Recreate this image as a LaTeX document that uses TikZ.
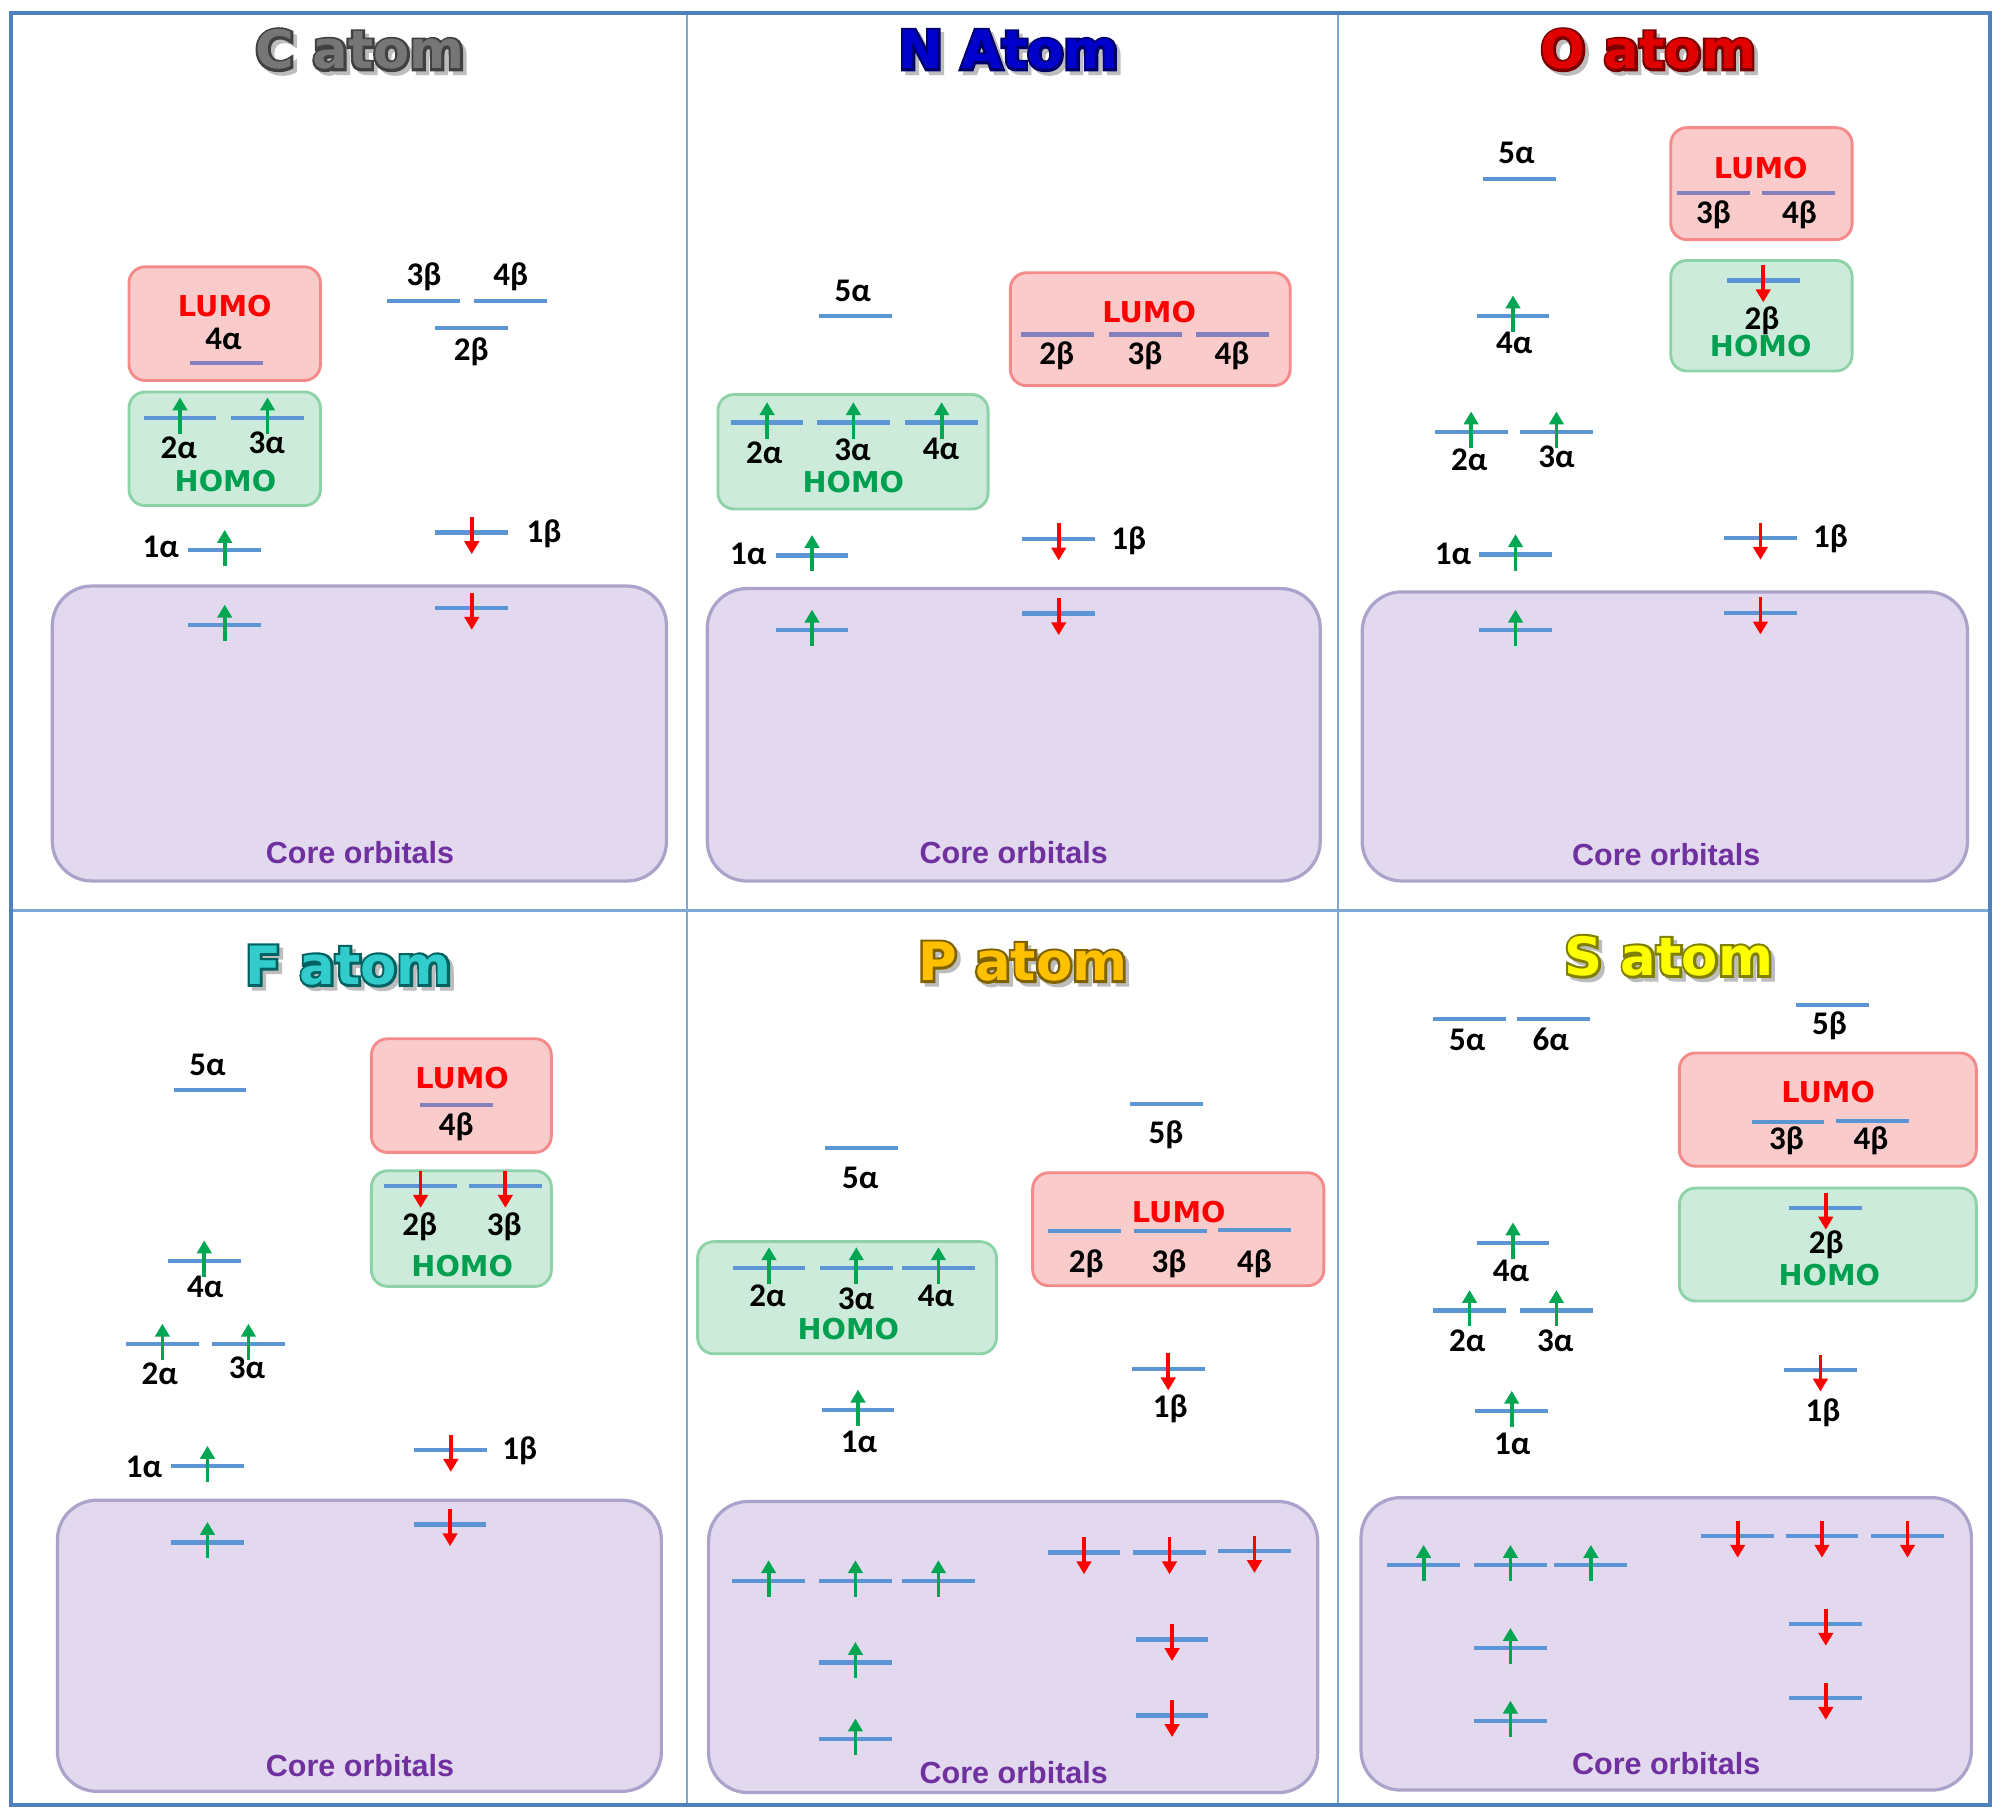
\documentclass[tikz,border=0pt]{standalone}
\usepackage{fontspec}
\setmainfont{Carlito}
\newfontfamily\dvs{DejaVu Sans}
\newfontfamily\lib{Liberation Sans}
\usetikzlibrary{arrows.meta}

\definecolor{frameblue}{HTML}{4F81BD}
\definecolor{divblue}{HTML}{7FA7D4}
\definecolor{orbblue}{HTML}{5B95D3}
\definecolor{lumoline}{HTML}{8581BE}
\definecolor{upgreen}{HTML}{00A651}
\definecolor{dnred}{HTML}{FF0000}
\definecolor{lumofill}{HTML}{F9CBCB}
\definecolor{lumodraw}{HTML}{F58A8A}
\definecolor{homofill}{HTML}{CDEBDB}
\definecolor{homodraw}{HTML}{8ED3A8}
\definecolor{corefill}{HTML}{E2D9EE}
\definecolor{coredraw}{HTML}{ABA3CB}
\definecolor{coretext}{HTML}{7030A0}
\definecolor{lumotext}{HTML}{FF0000}
\definecolor{homotext}{HTML}{00A050}
\definecolor{tshadow}{HTML}{BDBDBD}
\definecolor{cfill}{HTML}{767676}
\definecolor{nfill}{HTML}{0000CC}
\definecolor{ofill}{HTML}{E00000}
\definecolor{ffill}{HTML}{33CCCC}
\definecolor{pfill}{HTML}{FFC000}
\definecolor{sfill}{HTML}{FFFF00}

% #1 fill colour, #2 outline colour as "r g b", #3 text
\newcommand\atomtitle[3]{%
  \rlap{\kern1.1pt\raisebox{-1.1pt}{\color{tshadow}\special{pdf:literal direct 2 Tr 1.2 w 0.74 0.74 0.74 RG}#3\special{pdf:literal direct 0 Tr}}}%
  \rlap{\color{#1}\special{pdf:literal direct 1 Tr 1.4 w #2 RG}#3\special{pdf:literal direct 0 Tr}}%
  {\color{#1}#3}}

\tikzset{
  orbline/.style={line width=1.2pt, draw=orbblue},
  uparr/.style={line width=1.05pt, draw=upgreen, -{Triangle[length=3.6pt,width=4pt]}},
  dnarr/.style={line width=1.05pt, draw=dnred, -{Triangle[length=3.6pt,width=4pt]}},
  pics/lve/.style={code={\draw[orbline] (-28.5,0) -- (28.5,0);}},
  pics/lvl/.style={code={\draw[orbline, draw=lumoline] (-28.5,0) -- (28.5,0);}},
  pics/lvu/.style={code={\draw[orbline] (-28.5,0) -- (28.5,0); \draw[uparr] (0,12.5) -- (0,-16);}},
  pics/lvd/.style={code={\draw[orbline] (-28.5,0) -- (28.5,0); \draw[dnarr] (0,-12) -- (0,17);}},
  lumobox/.style={draw=lumodraw, fill=lumofill, line width=0.8pt, rounded corners=4.5pt},
  homobox/.style={draw=homodraw, fill=homofill, line width=0.8pt, rounded corners=4.5pt},
  corebox/.style={draw=coredraw, fill=corefill, line width=0.9pt, rounded corners=11pt},
  lab/.style={font=\bfseries\fontsize{9.2}{10}\selectfont, inner sep=0pt, anchor=base, text=black},
  lumot/.style={font=\dvs\bfseries\fontsize{8}{9}\selectfont, inner sep=0pt, anchor=base, text=lumotext},
  homot/.style={font=\dvs\bfseries\fontsize{8}{9}\selectfont, inner sep=0pt, anchor=base, text=homotext},
  coret/.style={font=\lib\bfseries\fontsize{8.5}{10}\selectfont, inner sep=0pt, anchor=base, text=coretext},
  atomt/.style={font=\dvs\bfseries\fontsize{14.7}{16}\selectfont, inner sep=0pt, anchor=base},
}

\begin{document}
\begin{tikzpicture}[x=0.0125cm, y=-0.0125cm]
\useasboundingbox (0,0) rectangle (1568,1423);
\fill[white] (0,0) rectangle (1568,1423);

% ---------- frame ----------
\draw[divblue, line width=0.7pt] (538,10) -- (538,1413);
\draw[divblue, line width=0.7pt] (1048,10) -- (1048,1413);
\draw[divblue, line width=0.7pt] (9,713) -- (1558,713);
\draw[frameblue, line width=1.2pt] (8.6,10.2) rectangle (1558.6,1413.7);

% ================= C atom =================
\node[atomt] (Ct) at (282,54) {\atomtitle{cfill}{0.25 0.25 0.25}{C atom}};
\draw[lumobox] (101,209) rectangle (251,298);
\draw[homobox] (101,307) rectangle (251,396);
\draw[corebox] (41,459) rectangle (522,690);
\node[lumot] (Clumo) at (176,248) {LUMO};
\node[lab] (C4a) at (175,274) {4α};
\pic at (177.5,284.4) {lvl};
\pic at (141,327.3) {lvu};
\pic at (209.5,327.3) {lvu};
\node[lab] (C2a) at (140,359) {2α};
\node[lab] (C3a) at (209,355.5) {3α};
\node[homot] (Chomo) at (176.6,385) {HOMO};
\pic at (331.8,236) {lve};
\pic at (400,236) {lve};
\node[lab] (C3b) at (332,224) {3β};
\node[lab] (C4b) at (400,224) {4β};
\pic at (369.3,257) {lve};
\node[lab] (C2b) at (369,282.5) {2β};
\pic at (176,431) {lvu};
\node[lab] (C1a) at (126,437) {1α};
\pic at (369.5,417) {lvd};
\node[lab] (C1b) at (426,425) {1β};
\pic at (176,489.6) {lvu};
\pic at (369.5,476.3) {lvd};
\node[coret] (Ccore) at (282,676) {Core orbitals};

% ================= N atom =================
\node[atomt] (Nt) at (790,54) {\atomtitle{nfill}{0 0 0.42}{N Atom}};
\draw[lumobox] (791.3,213.6) rectangle (1010.5,302);
\draw[homobox] (562.3,309) rectangle (773.9,398.7);
\draw[corebox] (554,461) rectangle (1034,690);
\pic at (669.9,247.4) {lve};
\node[lab] (N5a) at (667.8,236) {5α};
\node[lumot] (Nlumo) at (900,252.6) {LUMO};
\pic at (828,262) {lvl};
\pic at (897.2,262) {lvl};
\pic at (965.4,262) {lvl};
\node[lab] (N2b) at (827.6,285.7) {2β};
\node[lab] (N3b) at (896.8,285.7) {3β};
\node[lab] (N4b) at (965,285.7) {4β};
\pic at (600.8,331) {lvu};
\pic at (668.4,331) {lvu};
\pic at (737.5,331) {lvu};
\node[lab] (N2a) at (598.5,363) {2α};
\node[lab] (N3a) at (667.7,361) {3α};
\node[lab] (N4a) at (737,360) {4α};
\node[homot] (Nhomo) at (668.4,386) {HOMO};
\pic at (636,435) {lvu};
\node[lab] (N1a) at (586,442) {1α};
\pic at (829.2,422) {lvd};
\node[lab] (N1b) at (884,430) {1β};
\pic at (636,493.5) {lvu};
\pic at (829.2,480.5) {lvd};
\node[coret] (Ncore) at (794,676) {Core orbitals};

% ================= O atom =================
\node[atomt] (Ot) at (1291,54) {\atomtitle{ofill}{0.48 0 0}{O atom}};
\draw[lumobox] (1308.6,100) rectangle (1450.6,187.7);
\draw[homobox] (1308.6,204) rectangle (1450.6,290.6);
\draw[corebox] (1066.9,463.6) rectangle (1541,690);
\pic at (1190,140.3) {lve};
\node[lab] (O5a) at (1187.7,128) {5α};
\node[lumot] (Olumo) at (1379,139.6) {LUMO};
\pic at (1342.2,151) {lvl};
\pic at (1408.6,151) {lvl};
\node[lab] (O3b) at (1342,175.3) {3β};
\node[lab] (O4b) at (1409.3,175.3) {4β};
\pic at (1381,219.8) {lvd};
\node[lab] (O2b) at (1380,258) {2β};
\node[homot] (Ohomo) at (1379,279) {HOMO};
\pic at (1185,247.4) {lvu};
\node[lab] (O4a) at (1186,276.6) {4α};
\pic at (1152.2,338.3) {lvu};
\pic at (1219,338.3) {lvu};
\node[lab] (O2a) at (1150.8,368.5) {2α};
\node[lab] (O3a) at (1219,366) {3α};
\pic at (1187,434.4) {lvu};
\node[lab] (O1a) at (1138,442) {1α};
\pic at (1378.8,421.4) {lvd};
\node[lab] (O1b) at (1433.6,429) {1β};
\pic at (1187,493.5) {lvu};
\pic at (1378.8,479.9) {lvd};
\node[coret] (Ocore) at (1305,678) {Core orbitals};

% ================= F atom =================
\node[atomt] (Ft) at (273,771) {\atomtitle{ffill}{0 0.38 0.38}{F atom}};
\draw[lumobox] (290.9,813.6) rectangle (431.8,902.6);
\draw[homobox] (290.9,917) rectangle (431.8,1007.5);
\draw[corebox] (45,1175) rectangle (518,1403);
\pic at (164.4,853.5) {lve};
\node[lab] (F5a) at (162.6,842) {5α};
\node[lumot] (Flumo) at (361.9,852.6) {LUMO};
\pic at (357.3,865.2) {lvl};
\node[lab] (F4b) at (357.3,889.4) {4β};
\pic at (329.4,929) {lvd};
\pic at (395.8,929) {lvd};
\node[lab] (F2b) at (328.7,968) {2β};
\node[lab] (F3b) at (395,968) {3β};
\node[homot] (Fhomo) at (362,999.5) {HOMO};
\pic at (160,987.5) {lvu};
\node[lab] (F4a) at (160.8,1016.5) {4α};
\pic at (127.2,1052.8) {lvu};
\pic at (194.6,1052.8) {lvu};
\node[lab] (F2a) at (125.2,1084) {2α};
\node[lab] (F3a) at (193.4,1080) {3α};
\pic at (162.5,1148.4) {lvu};
\node[lab] (F1a) at (112.8,1157) {1α};
\pic at (353.1,1135.8) {lvd};
\node[lab] (F1b) at (407,1143.4) {1β};
\pic at (162.5,1208) {lvu};
\pic at (352.5,1194) {lvd};
\node[coret] (Fcore) at (282,1391) {Core orbitals};

% ================= P atom =================
\node[atomt] (Pt) at (801,768) {\atomtitle{pfill}{0.5 0.38 0}{P atom}};
\draw[lumobox] (808.8,918.5) rectangle (1036.9,1007);
\draw[homobox] (546.4,972.5) rectangle (780.5,1060.3);
\draw[corebox] (555,1176) rectangle (1032,1404);
\pic at (913.6,864.6) {lve};
\node[lab] (P5b) at (913.3,896) {5β};
\pic at (674.8,899) {lve};
\node[lab] (P5a) at (673.7,930.5) {5α};
\node[lumot] (Plumo) at (923.2,957.5) {LUMO};
\pic at (849.5,964.4) {lve};
\pic at (916.9,964.4) {lve};
\pic at (982.8,963.4) {lve};
\node[lab] (P2b) at (850.7,996.5) {2β};
\node[lab] (P3b) at (915.6,996.5) {3β};
\node[lab] (P4b) at (982.5,996.5) {4β};
\pic at (602.3,992.9) {lvu};
\pic at (670.7,992.9) {lvu};
\pic at (735,992.9) {lvu};
\node[lab] (P2a) at (601.2,1023) {2α};
\node[lab] (P3a) at (670.4,1025.5) {3α};
\node[lab] (P4a) at (733,1023) {4α};
\node[homot] (Phomo) at (664.4,1049) {HOMO};
\pic at (672,1104.4) {lvu};
\node[lab] (P1a) at (672.7,1137.4) {1α};
\pic at (915,1072) {lvd};
\node[lab] (P1b) at (916.6,1110) {1β};
\pic at (602,1238) {lvu};
\pic at (670,1238) {lvu};
\pic at (735,1238) {lvu};
\pic at (670,1302) {lvu};
\pic at (670,1362) {lvu};
\pic at (849,1216) {lvd};
\pic at (916,1216) {lvd};
\pic at (982.5,1215) {lvd};
\pic at (918,1284) {lvd};
\pic at (918,1343.5) {lvd};
\node[coret] (Pcore) at (794,1397) {Core orbitals};

% ================= S atom =================
\node[atomt] (St) at (1307,764) {\atomtitle{sfill}{0.5 0.5 0}{S atom}};
\draw[lumobox] (1315.3,824.7) rectangle (1547.9,913.4);
\draw[homobox] (1315.3,930.5) rectangle (1547.9,1019);
\draw[corebox] (1066,1173) rectangle (1544,1402);
\pic at (1151.1,798) {lve};
\pic at (1216.6,798) {lve};
\node[lab] (S5a) at (1149.1,822.6) {5α};
\node[lab] (S6a) at (1214.6,822.6) {6α};
\pic at (1435,787.2) {lve};
\node[lab] (S5b) at (1432.8,810.6) {5β};
\node[lumot] (Slumo) at (1431.8,863.7) {LUMO};
\pic at (1400.4,878.7) {lve};
\pic at (1466.4,878) {lve};
\node[lab] (S3b) at (1399.2,900.5) {3β};
\node[lab] (S4b) at (1465.3,900.5) {4β};
\pic at (1430,946.1) {lvd};
\node[lab] (S2b) at (1430.4,981.5) {2β};
\node[homot] (Shomo) at (1432.8,1007) {HOMO};
\pic at (1185,973.4) {lvu};
\node[lab] (S4a) at (1183.4,1004) {4α};
\pic at (1151,1026.4) {lvu};
\pic at (1219,1026.4) {lvu};
\node[lab] (S2a) at (1149.1,1058.5) {2α};
\node[lab] (S3a) at (1218,1058.5) {3α};
\pic at (1184,1105.3) {lvu};
\node[lab] (S1a) at (1184.4,1138.8) {1α};
\pic at (1425.8,1072.9) {lvd};
\node[lab] (S1b) at (1427.8,1113.4) {1β};
\pic at (1115,1226) {lvu};
\pic at (1183,1226) {lvu};
\pic at (1246,1226) {lvu};
\pic at (1183,1291) {lvu};
\pic at (1183,1348) {lvu};
\pic at (1361,1203) {lvd};
\pic at (1427,1203) {lvd};
\pic at (1494,1203) {lvd};
\pic at (1430,1272) {lvd};
\pic at (1430,1330) {lvd};
\node[coret] (Score) at (1305,1390) {Core orbitals};
\end{tikzpicture}
\end{document}
